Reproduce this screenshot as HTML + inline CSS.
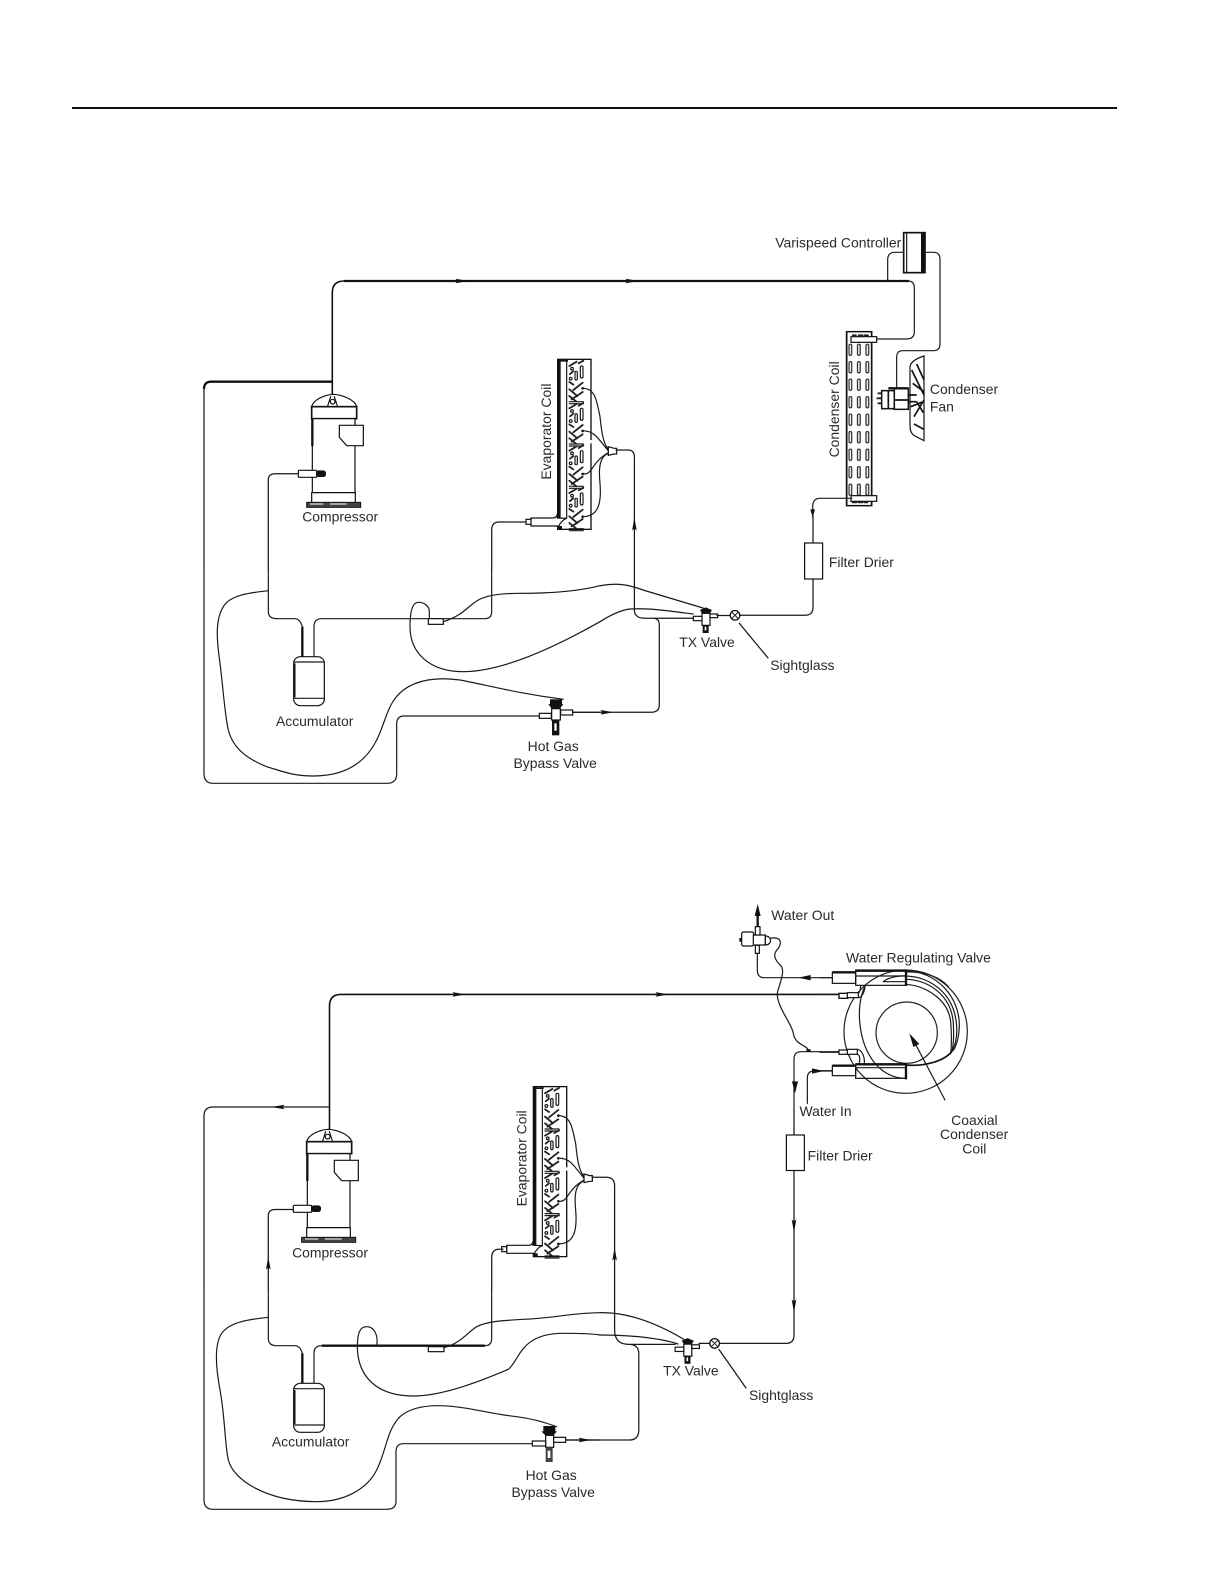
<!DOCTYPE html>
<html><head><meta charset="utf-8"><style>
html,body{margin:0;padding:0;background:#fff}
svg{display:block}
text{font-family:"Liberation Sans",sans-serif;font-size:13.8px;fill:#2a2a2a}
.l{fill:none;stroke:#1a1a1a;stroke-width:1.25;stroke-linecap:round;stroke-linejoin:round}
.m{fill:none;stroke:#111;stroke-width:1.6;stroke-linejoin:round}
.h{fill:none;stroke:#111;stroke-width:2.3}
.zl{fill:none;stroke:#1a1a1a;stroke-width:3.6;stroke-linecap:round;stroke-linejoin:round}
.zm{fill:none;stroke:#111;stroke-width:5}
.zh{fill:none;stroke:#111;stroke-width:7}
.zd{fill:none;stroke:#222;stroke-width:5.5;stroke-linecap:round}
.zs{fill:#fff;stroke:#111;stroke-width:3.6}
.k{fill:#111;stroke:none}
.s{fill:#fff;stroke:#111;stroke-width:1.2}
.c{fill:none;stroke:#222;stroke-width:1}
</style></head><body>
<svg width="1224" height="1584" viewBox="0 0 1224 1584" xmlns="http://www.w3.org/2000/svg">
<defs>
<path id="ar" d="M-6.500,-2.300 L6.500,0 L-6.500,2.300 L-4.500,0Z" fill="#111"/>
<g id="evmod">
<path class="zd" d="M88,18 L110,5 M116,10 L130,2 M90,42 L100,34 M88,66 L100,74 M100,90 L128,68 M88,88 L112,108 M95,118 L128,96 M88,108 L108,124"/>
<circle cx="92" cy="56" r="4" class="zl"/><circle cx="96" cy="26" r="4" class="zl"/>
<rect x="121" y="18" width="8" height="36" rx="4" class="zl"/>
<rect x="105" y="34" width="7" height="26" rx="3.500" class="zl"/>
<path class="zl" d="M88,125 H130 M88,131 H130"/>
</g>
<!-- evaporator in crop coords origin 540,350 -->
<g id="evap" transform="translate(540,350) scale(.33333)">
<rect x="53" y="28" width="100" height="510" fill="#fff" stroke="#111" stroke-width="4"/>
<use href="#evmod" y="30"/><use href="#evmod" y="157"/><use href="#evmod" y="284"/><use href="#evmod" y="411"/>
<rect x="64" y="30" width="14" height="470" fill="#fff"/>
<rect x="62" y="505" width="20" height="30" fill="#fff"/>
<path class="zl" d="M80,28 V505"/>
<path class="k" d="M52,28 h10 v475 h-10z M56,30 h28 v5 h-28z"/>
<path class="zs" d="M-27,504 H38 Q50,504 52,492 V504 L80,505 Q66,510 56,528 H-27Z"/>
<rect x="-42" y="508" width="15" height="15" class="zs"/>
<path class="k" d="M52,528 h14 v10 h-14z"/>
<circle cx="128" cy="115" r="4" class="k"/><circle cx="128" cy="243" r="4" class="k"/><circle cx="128" cy="372" r="4" class="k"/><circle cx="128" cy="500" r="4" class="k"/>
<rect x="144" y="270" width="18" height="10" fill="#fff"/>
<path class="zl" d="M128,115 C165,115 170,150 180,200 C185,250 190,280 205,298 M128,243 C160,240 175,265 205,303 M128,372 C160,375 150,340 205,308 M128,500 C175,500 185,460 180,400 C175,350 180,320 205,310"/>
<path class="zs" d="M205,290 L222,295 H230 V312 H222 L205,316Z" stroke-width="4.500"/>
</g>
<!-- compressor, crop origin 280,350 -->
<g id="comp" transform="translate(280,350) scale(.33333)">
<path class="zs" d="M95,170 C100,150 130,135 160,133 C190,135 225,150 230,170Z"/>
<path class="zl" d="M143,168 L152,140 M172,168 L163,140"/>
<circle cx="158" cy="155" r="7" class="zs" stroke-width="5"/>
<rect x="95" y="170" width="135" height="36" fill="#fff" stroke="#111" stroke-width="5"/>
<rect x="97" y="206" width="128" height="222" fill="#fff" stroke="#111" stroke-width="3.600"/>
<path class="zh" d="M97,206 V288"/>
<path class="zs" d="M178,226 H250 V287 H200 L178,262Z"/>
<rect x="95" y="428" width="131" height="30" class="zs"/>
<rect x="80" y="457" width="162" height="15" fill="#444" stroke="#111" stroke-width="3"/>
<path d="M90,462 h40 M150,462 h50" stroke="#fff" stroke-width="3" fill="none"/>
<rect x="55" y="361" width="55" height="21" rx="3" class="zs"/>
<rect x="108" y="361" width="30" height="20" rx="8" class="k"/>
</g>
<g id="acc">
<rect x="281" y="0" width="92" height="147" rx="20" fill="#fff" stroke="#111" stroke-width="3.600"/>
<path class="zl" d="M281,16 H373 M281,125 H373"/>
<path class="zm" d="M284,20 V122"/>
</g>
<g id="tx" transform="translate(500,590) scale(.33333)">
<path class="k" d="M600,60 L617,52 L636,60 L630,70 H606Z"/>
<rect x="606" y="70" width="24" height="36" class="zs"/>
<rect x="630" y="72" width="23" height="11" class="zs"/>
<rect x="580" y="79" width="26" height="13" class="zs"/>
<rect x="608" y="106" width="18" height="23" class="k"/>
<rect x="614" y="110" width="5" height="11" fill="#fff"/>
</g>
<g id="sg"><circle r="4.800" fill="#fff" stroke="#111" stroke-width="1.300"/><path class="c" d="M-3.300,-3.300 L3.300,3.300 M-3.300,3.300 L3.300,-3.300"/></g>
<pattern id="slots" x="265" y="371" width="25.500" height="52.500" patternUnits="userSpaceOnUse">
<rect x="2" y="1" width="8" height="34" rx="4" fill="#fff" stroke="#111" stroke-width="3.400"/>
</pattern>
</defs>

<line x1="72" y1="108" x2="1117" y2="108" stroke="#111" stroke-width="2"/>

<!-- ============ TOP ============ -->
<path class="m" d="M332.300,396 V293 Q332.300,281 344,281"/>
<path class="h" d="M344,281 H909"/>
<path class="h" d="M332.300,381.700 H211 Q204,381.700 204,389" />
<path class="l" d="M204,389 V570"/>
<use href="#ar" transform="translate(462,281)"/>
<use href="#ar" transform="translate(632,281)"/>
<use href="#comp"/>
<use href="#evap"/>
<path class="l" d="M298,473.700 H275 Q268.300,473.700 268.300,480 V570"/>
<path class="l" d="M491.700,570 V530 Q491.700,522 499,522 H526"/>
<path class="l" d="M616,450 H628 Q634.400,450 634.400,457 V610 Q634.400,618.300 645,618.300 H653 Q659.300,618.300 659.300,625 V705 Q659.300,712.300 651,712.300 H571.700 M645,618.300 H693.300"/>
<use href="#ar" transform="translate(634.400,524) rotate(-90)"/>
<use href="#ar" transform="translate(607,712.300)"/>
<!-- crop 200,570 -->
<g transform="translate(200,570) scale(.33333)">
<path class="zl" d="M12,0 V610 Q12,640 40,640 H560 Q590,640 590,612 V462 Q590,438 612,438 H1020"/>
<path class="zl" d="M205,0 V125 Q205,146 230,146 H285 Q300,146 307,170"/>
<path class="zh" d="M307,170 V260"/>
<path class="zl" d="M342,260 V170 Q342,146 365,146 H855 Q875,146 875,125 V0"/>
<rect x="685" y="146" width="45" height="17" class="zs"/>
<path class="zl" d="M205,62 C150,68 90,75 70,110 C45,150 50,210 60,280 C70,360 75,440 85,480 C100,540 150,570 200,590 C250,605 280,618 340,618 C420,618 490,590 530,510 C560,450 560,400 610,360 C650,330 710,320 780,330 C860,345 950,370 1090,388"/>
<path class="zl" d="M688,146 V125 C688,110 675,97 655,97 C635,97 630,130 630,170 C630,250 690,305 790,305 C900,305 1050,240 1200,155"/>
<path class="zl" d="M730,155 C780,140 800,115 820,100 C850,75 900,70 960,70 C1050,70 1130,65 1200,47"/>
<use href="#acc" y="260"/>
<!-- hot gas valve -->
<rect x="1050" y="388" width="36" height="16" class="k"/>
<path class="k" d="M1045,402 H1090 L1080,416 H1055Z"/>
<rect x="1055" y="416" width="26" height="34" class="zs"/>
<rect x="1018" y="430" width="36" height="15" class="zs"/>
<rect x="1082" y="420" width="36" height="15" class="zs"/>
<rect x="1056" y="450" width="22" height="46" class="k"/>
<rect x="1063" y="460" width="7" height="22" fill="#fff"/>
<path class="zl" d="M1118,427 H1200"/>
</g>
<path class="l" d="M600,621.700 C612,614 622,610 630,609 C650,608 670,611 693,614"/>
<path class="l" d="M600,585.700 C620,582 632,586 643,590 L703,608"/>
<use href="#tx"/>
<path class="l" d="M717,615.500 H730 M740,615.300 H805 Q813,615.300 813,607 V579 M813,543 V516 M739.300,623.300 L768,658"/>
<use href="#sg" x="735" y="615.300"/>
<rect x="804.600" y="543" width="18" height="36" class="s"/>

<!-- condenser, controller, fan: crop 760,220 -->
<g transform="translate(760,220) scale(.33333)">
<path class="zl" d="M445,183 Q463,183 463,205 V335 Q463,357 440,357 H350"/>
<path class="zl" d="M430,97 H405 Q383,97 383,120 V183 M495,97 H520 Q540,97 540,117 V372 Q540,392 520,392 H428 Q410,392 410,412 V505"/>
<rect x="431" y="38" width="64" height="120" fill="#fff" stroke="#111" stroke-width="5"/>
<rect x="483" y="38" width="12" height="120" class="k"/>
<path class="zl" d="M440,40 V156"/>
<rect x="260" y="335" width="75" height="522" fill="#fff" stroke="#111" stroke-width="4.500"/>
<rect x="265" y="371" width="76" height="473" fill="url(#slots)" />
<rect x="331" y="340" width="10" height="512" fill="#fff"/>
<path class="zm" d="M260,335 V857 M335,335 V857"/>
<path class="zd" d="M278,346 h10 m8,0 h12 m6,0 h10 M278,847 h12 m6,0 h12 m6,0 h8" stroke-width="6"/>
<rect x="273" y="350" width="77" height="17" class="zs"/>
<rect x="273" y="827" width="77" height="17" class="zs"/>
<path class="zl" d="M275,835 H180 Q158,835 158,860 V890"/>
<path class="k" d="M158,893 L151,868 H165Z"/>
<!-- fan -->
<path class="zs" d="M492,408 L492,662 L465,648 C450,640 450,625 450,610 L450,440 C452,425 470,415 492,408Z"/>
<path class="zm" d="M455,450 L492,525 M470,432 L492,480 M458,490 L492,515 M462,590 L492,540 M462,612 L492,628 M452,560 L490,545 M470,545 L490,578"/>
<!-- motor -->
<path class="zd" d="M355,520 H385 M352,535 H385 M355,550 H385" stroke-width="5"/>
<rect x="365" y="512" width="38" height="54" fill="#fff" stroke="#111" stroke-width="4.500"/>
<rect x="403" y="505" width="42" height="63" fill="#fff" stroke="#111" stroke-width="4.500"/>
<path class="zm" d="M385,512 V566 M403,540 H445 M445,525 H470 M445,545 H470"/>
<path class="zh" d="M385,505 H445"/>
</g>

<!-- ============ BOTTOM ============ -->
<path class="m" d="M329.500,1133 V1006 Q329.500,994.400 341,994.400 H839"/>
<path class="l" d="M329.500,1107 H213 Q204,1107 204,1116 V1290"/>
<use href="#ar" transform="translate(278,1107) rotate(180)"/>
<use href="#ar" transform="translate(459,994.400)"/>
<use href="#ar" transform="translate(662,994.400)"/>
<use href="#comp" transform="translate(-5,735)"/>
<use href="#evap" transform="translate(-24.300,727.300)"/>
<path class="l" d="M293,1209.500 H275 Q268.300,1209.500 268.300,1216 V1290 M491.700,1290 V1258 Q491.700,1249.300 499,1249.300 H503"/>
<use href="#ar" transform="translate(268.300,1263) rotate(-90)"/>
<path class="l" d="M592,1177.300 H606 Q614.600,1177.300 614.600,1186 V1330 Q614.600,1344.400 629,1344.400 H675 M629,1344.400 Q638.800,1344.400 638.800,1354 V1430 Q638.800,1440 629,1440 H565.700"/>
<use href="#ar" transform="translate(614.600,1254) rotate(-90)"/>
<!-- crop 200,1290 -->
<g transform="translate(200,1290) scale(.33333)">
<path class="zl" d="M12,0 V630 Q12,658 40,658 H560 Q588,658 588,635 V485 Q588,461 610,461 H1000"/>
<path class="zl" d="M205,0 V145 Q205,167 230,167 H285 Q300,167 307,190"/>
<path class="zh" d="M307,190 V280"/>
<path class="zl" d="M342,280 V190 Q342,167 365,167"/>
<path class="zh" d="M365,167 H855" stroke-width="5"/>
<path class="zl" d="M855,167 Q875,167 875,145 V0"/>
<rect x="685" y="170" width="47" height="15" class="zs"/>
<path class="zl" d="M205,82 C150,88 90,95 65,130 C45,160 45,220 60,300 C75,380 75,470 85,510 C100,570 200,635 350,635 C430,635 500,600 530,540 C560,480 560,420 600,380 C640,345 710,340 800,355 C860,365 900,375 950,380 C990,385 1030,395 1070,410"/>
<path class="zl" d="M530,167 C535,140 525,110 500,110 C475,110 472,140 472,175 C475,260 530,318 640,318 C730,318 850,270 925,238 C960,210 960,130 1090,130 C1130,130 1170,130 1200,135"/>
<path class="zl" d="M735,172 C780,160 800,130 830,110 C860,95 900,92 970,88 C1060,85 1120,68 1200,68"/>
<use href="#acc" y="280"/>
<rect x="1030" y="408" width="36" height="17" class="k"/>
<path class="k" d="M1024,424 H1071 L1060,436 H1036Z"/>
<rect x="1037" y="436" width="24" height="36" class="zs"/>
<rect x="997" y="453" width="40" height="15" class="zs"/>
<rect x="1061" y="442" width="36" height="15" class="zs"/>
<rect x="1037" y="472" width="21" height="44" fill="#444"/>
<rect x="1043" y="482" width="8" height="22" fill="#fff"/>
<path class="zl" d="M1097,450 H1200"/>
</g>
<use href="#ar" transform="translate(585,1440)"/>
<path class="l" d="M600,1335 C630,1335 660,1338 678,1344"/>
<path class="l" d="M600,1312.700 C630,1312 660,1325 685,1340"/>
<use href="#tx" transform="translate(-18.200,730.800)"/>
<use href="#sg" x="714.600" y="1343.400"/>
<path class="l" d="M699,1343.400 H709.500 M719.500,1343.400 H786 Q794,1343.400 794,1335 V1170 M794,1135 V1110 M719,1349.500 L746,1388"/>
<use href="#ar" transform="translate(794,1226) rotate(90)"/>
<use href="#ar" transform="translate(794,1306) rotate(90)"/>
<rect x="786.400" y="1135" width="18" height="35.500" class="s"/>

<!-- water valve, crop 720,890 -->
<g transform="translate(720,890) scale(.33333)">
<path class="zl" d="M112,190 V240 Q112,263 132,263 H335"/>
<path class="zl" d="M222,660 V507 Q222,485 244,485 H357"/>
<path class="zl" d="M262,640 V565 Q262,543 282,543 H337"/>
<path class="k" d="M235,263 L272,255 V271Z M312,543 L276,535 V551Z M225,610 L216,574 H234Z"/>
<path class="zl" d="M150,145 C175,140 190,150 175,175 C155,195 165,210 185,230 C195,250 175,290 172,310 C170,350 215,400 220,430 C225,465 260,465 265,480"/>
<rect x="259" y="478" width="13" height="7" class="k"/>
<rect x="65" y="126" width="36" height="42" rx="5" class="zs"/>
<rect x="58" y="144" width="7" height="11" class="k"/>
<rect x="100" y="135" width="36" height="30" class="zs"/>
<path class="zs" d="M136,138 C157,138 157,165 136,165Z"/>
<rect x="106" y="110" width="14" height="25" class="zs"/>
<rect x="106" y="166" width="12" height="24" class="zs"/>
<path class="zh" d="M113,72 V110"/>
<path class="k" d="M113,42 L122,78 H104Z"/>
</g>
<!-- coaxial coil, crop 820,950 -->
<g transform="translate(820,950) scale(.33333)">
<circle cx="257" cy="245" r="185" fill="none" stroke="#222" stroke-width="3.600"/>
<circle cx="260" cy="248" r="92" fill="none" stroke="#222" stroke-width="3.600"/>
<path class="zl" d="M135,108 C105,170 115,280 165,340 C195,375 230,385 258,385"/>
<path class="zl" d="M258,62 C350,65 420,140 418,230 C416,270 405,300 395,305"/>
<path class="zl" d="M258,78 C330,80 405,130 410,230 C412,260 405,290 395,305"/>
<path class="zl" d="M258,88 C330,90 395,140 400,220 C402,260 400,290 395,305"/>
<path class="zl" d="M258,103 C320,108 385,150 392,215 C395,255 395,285 392,310"/>
<path class="zm" d="M395,305 C370,335 310,350 258,345"/>
<path class="zl" d="M258,66 C310,64 360,80 385,110 M190,95 C205,82 240,76 258,78 M190,95 H258"/>
<path class="zl" d="M0,83 H37 M0,362 H37 M0,133 H57 M0,307 H57"/>
<rect x="37" y="67" width="70" height="33" class="zs"/>
<rect x="37" y="347" width="70" height="30" class="zs"/>
<path class="zh" d="M37,67 H107 M37,347 H107"/>
<rect x="107" y="60" width="151" height="46" fill="none" stroke="#111" stroke-width="3.600"/>
<rect x="107" y="342" width="151" height="43" fill="none" stroke="#111" stroke-width="3.600"/>
<path class="zh" d="M107,62 H258 M107,343 H258 M258,60 V108 M258,340 V388"/>
<path class="zl" d="M107,78 H258 M107,353 H258"/>
<rect x="57" y="130" width="26" height="15" fill="#fff" stroke="#111" stroke-width="4"/>
<rect x="82" y="128" width="33" height="15" class="zs"/>
<path class="zl" d="M115,143 C125,143 135,125 135,107 M115,130 C120,125 122,115 122,107"/>
<rect x="57" y="300" width="26" height="13" class="zs"/>
<rect x="82" y="298" width="30" height="15" class="zs"/>
<path class="zl" d="M110,298 C125,298 135,320 133,342 M110,313 C120,313 120,325 118,342"/>
<path class="zl" d="M285,280 L375,450"/>
<path class="k" d="M268,250 L298,282 L280,291Z"/>
</g>

<!-- ============ LABELS ============ -->
<g transform="scale(1.0108)">
<text x="767" y="245">Varispeed Controller</text>
<text transform="translate(830,405) rotate(-90)" text-anchor="middle">Condenser Coil</text>
<text x="920" y="390">Condenser</text>
<text x="920" y="407">Fan</text>
<text transform="translate(545,427) rotate(-90)" text-anchor="middle">Evaporator Coil</text>
<text x="299" y="516">Compressor</text>
<text x="820" y="561">Filter Drier</text>
<text x="672" y="640">TX Valve</text>
<text x="762" y="663">Sightglass</text>
<text x="273" y="718">Accumulator</text>
<text x="522" y="743">Hot Gas</text>
<text x="508" y="760">Bypass Valve</text>
<text x="763" y="910">Water Out</text>
<text x="837" y="952">Water Regulating Valve</text>
<text x="941" y="1113">Coaxial</text>
<text x="930" y="1127">Condenser</text>
<text x="952" y="1141">Coil</text>
<text x="791" y="1104">Water In</text>
<text x="799" y="1148">Filter Drier</text>
<text transform="translate(521,1146) rotate(-90)" text-anchor="middle">Evaporator Coil</text>
<text x="289" y="1244">Compressor</text>
<text x="656" y="1361">TX Valve</text>
<text x="741" y="1385">Sightglass</text>
<text x="269" y="1431">Accumulator</text>
<text x="520" y="1464">Hot Gas</text>
<text x="506" y="1481">Bypass Valve</text>
</g>
</svg>
</body></html>
